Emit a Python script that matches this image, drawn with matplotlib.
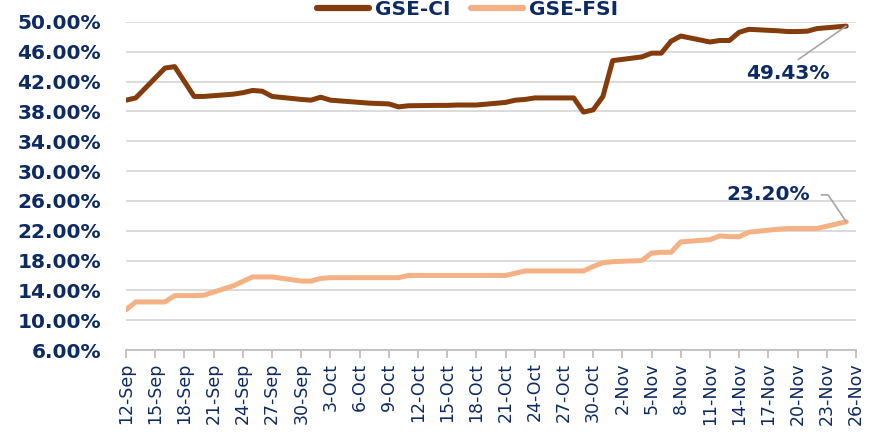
import pandas as pd
import matplotlib
matplotlib.use('Agg')
import matplotlib.pyplot as plt
from matplotlib.ticker import FuncFormatter

# Trading days (2024) and index YTD returns in %
dates = ['2024-09-12', '2024-09-13', '2024-09-16', '2024-09-17', '2024-09-18', '2024-09-19',
         '2024-09-20', '2024-09-23', '2024-09-24', '2024-09-25', '2024-09-26', '2024-09-27',
         '2024-09-30', '2024-10-01', '2024-10-02', '2024-10-03', '2024-10-04', '2024-10-07',
         '2024-10-08', '2024-10-09', '2024-10-10', '2024-10-11', '2024-10-14', '2024-10-15',
         '2024-10-16', '2024-10-17', '2024-10-18', '2024-10-21', '2024-10-22', '2024-10-23',
         '2024-10-24', '2024-10-25', '2024-10-28', '2024-10-29', '2024-10-30', '2024-10-31',
         '2024-11-01', '2024-11-04', '2024-11-05', '2024-11-06', '2024-11-07', '2024-11-08',
         '2024-11-11', '2024-11-12', '2024-11-13', '2024-11-14', '2024-11-15', '2024-11-18',
         '2024-11-19', '2024-11-20', '2024-11-21', '2024-11-22', '2024-11-25']

gse_ci = [39.5, 39.8, 43.8, 44.0, 42.0, 40.0,
          40.0, 40.3, 40.5, 40.8, 40.7, 40.0,
          39.6, 39.5, 39.9, 39.5, 39.4, 39.1,
          39.05, 39.0, 38.6, 38.75, 38.8, 38.8,
          38.85, 38.85, 38.85, 39.2, 39.5, 39.6,
          39.8, 39.8, 39.8, 37.9, 38.2, 40.0,
          44.8, 45.3, 45.8, 45.8, 47.4, 48.1,
          47.3, 47.5, 47.5, 48.6, 49.0, 48.8,
          48.7, 48.7, 48.75, 49.1, 49.43]

gse_fsi = [11.4, 12.45, 12.45, 13.3, 13.3, 13.3,
           13.35, 14.6, 15.2, 15.8, 15.8, 15.8,
           15.25, 15.25, 15.6, 15.7, 15.7, 15.7,
           15.7, 15.7, 15.7, 16.0, 16.0, 16.0,
           16.0, 16.0, 16.0, 16.0, 16.3, 16.6,
           16.6, 16.6, 16.6, 16.6, 17.2, 17.7,
           17.85, 18.0, 19.0, 19.1, 19.1, 20.5,
           20.8, 21.3, 21.2, 21.2, 21.8, 22.2,
           22.3, 22.3, 22.3, 22.3, 23.2]

navy = '#0d2a63'
x = pd.to_datetime(dates)

fig = plt.figure(figsize=(8.69, 4.37), dpi=100)
ax = fig.add_axes([0.145, 0.199, 0.84, 0.751])

ax.plot(x, gse_ci, color='#843c0c', lw=3.6, label='GSE-CI', solid_capstyle='round')
ax.plot(x, gse_fsi, color='#f4b183', lw=3.6, label='GSE-FSI', solid_capstyle='round')

ax.set_ylim(6, 50)
ax.set_yticks(range(6, 51, 4))
ax.yaxis.set_major_formatter(FuncFormatter(lambda v, p: f'{v:.2f}%'))
ax.grid(axis='y', color='#d9d9d9', lw=1.3)
ax.set_axisbelow(True)

ax.set_xlim(pd.Timestamp('2024-09-12'), pd.Timestamp('2024-11-26'))
ticks = pd.date_range('2024-09-12', '2024-11-26', freq='3D')
ax.set_xticks(ticks)
ax.set_xticklabels([f'{d.day}-{d.strftime("%b")}' for d in ticks], rotation=90)

for s in ['top', 'right', 'left']:
    ax.spines[s].set_visible(False)
ax.spines['bottom'].set_color('#bfbfbf')
ax.spines['bottom'].set_linewidth(1.3)
ax.tick_params(axis='y', length=0, pad=18, labelsize=14.5, labelcolor=navy)
ax.tick_params(axis='x', length=6, width=1.3, color='#bfbfbf', labelsize=12.5, labelcolor=navy, pad=3)
for lbl in ax.get_yticklabels():
    lbl.set_fontweight('bold')

# end-value labels with leader lines
ax.annotate('49.43%', xy=(x[-1], gse_ci[-1]), xytext=(pd.Timestamp('2024-11-19'), 43.1),
            ha='center', va='center', fontsize=14.5, fontweight='bold', color=navy,
            arrowprops=dict(arrowstyle='-', color='#a6a6a6', lw=1.2, shrinkA=2, shrinkB=0,
                            relpos=(0.55, 1.0)))
ax.annotate('23.20%', xy=(x[-1], gse_fsi[-1]), xytext=(pd.Timestamp('2024-11-17'), 26.8),
            ha='center', va='center', fontsize=14.5, fontweight='bold', color=navy,
            arrowprops=dict(arrowstyle='-', color='#a6a6a6', lw=1.2, shrinkA=6, shrinkB=0,
                            connectionstyle='angle,angleA=0,angleB=124,rad=0',
                            relpos=(1.0, 0.5)))

leg = fig.legend(loc='center', bbox_to_anchor=(0.538, 0.978), ncol=2, frameon=False,
                 handlelength=2.6, columnspacing=1.0, handletextpad=0.3,
                 prop={'weight': 'bold', 'size': 14.5})
for t in leg.get_texts():
    t.set_color(navy)
for h in leg.legend_handles:
    h.set_linewidth(4.5)

fig.savefig('out.png', dpi=100)
